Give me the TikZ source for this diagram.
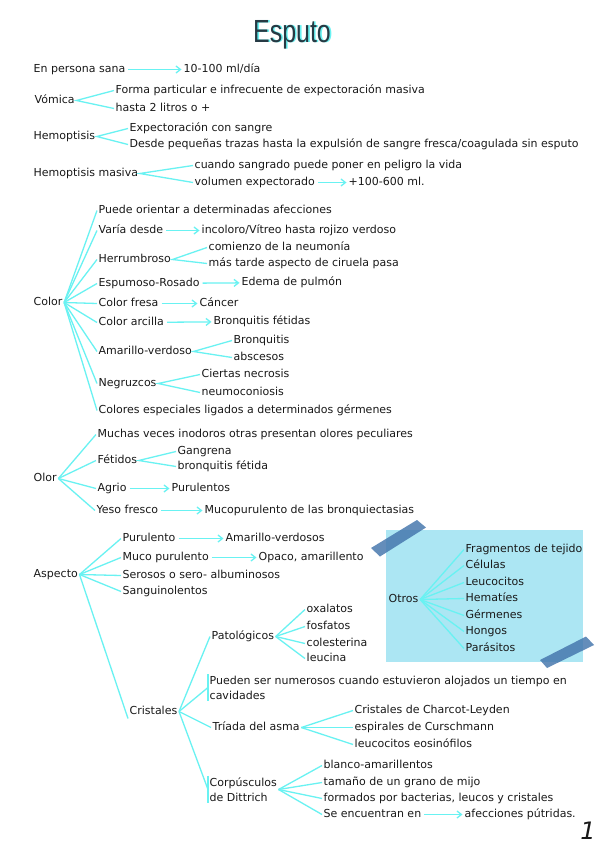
\documentclass[tikz,border=0pt]{standalone}
\usepackage{fontspec}
\setmainfont{DejaVu Sans}
\newfontfamily\titlefont{Liberation Sans}
\usetikzlibrary{arrows.meta}
\definecolor{cy}{RGB}{105,242,242}
\definecolor{ink}{RGB}{25,25,25}
\definecolor{boxc}{RGB}{172,230,243}
\definecolor{tapec}{RGB}{66,116,172}
\definecolor{ttl}{RGB}{38,58,68}
\tikzset{
  t2/.style={anchor=west, inner sep=1.5pt, text=ink, font=\fontsize{11}{15}\selectfont, align=left, yshift=-1.5pt},
  t/.style={t2, text height=8pt, text depth=2.6pt},
  ln/.style={draw=cy, line width=1.3pt},
  ar/.style={ln, -{Straight Barb[length=4.5pt,width=7pt]}, shorten <=1.5pt, shorten >=0.5pt},
  tape/.style={fill=tapec, opacity=0.82},
  ttext/.style={font=\titlefont\fontsize{32}{32}\selectfont}
}
\begin{document}
\begin{tikzpicture}[x=1pt,y=-1pt]
\useasboundingbox (0,0) rectangle (599,848);
\fill[white] (0,0) rectangle (599,848);

% title
\node[ttext, text=cy] (titleshadow) at (293.6,35.1) {\scalebox{0.78}[1]{Esputo}};
\node[ttext, text=ttl] (title) at (292,34.5) {\scalebox{0.78}[1]{Esputo}};

% top rows
\node[t] (sana) at (32,68) {En persona sana};
\node[t] (sanav) at (182,68) {10-100 ml/día};
\draw[ar] (sana) -- (sanav);

\node[t] (vom) at (33,99) {Vómica};
\node[t] (vom1) at (114,89) {Forma particular e infrecuente de expectoración masiva};
\node[t] (vom2) at (114,107) {hasta 2 litros o +};
\draw[ln] (vom1.west) -- (vom.east) -- (vom2.west);

\node[t] (hem) at (32,135) {Hemoptisis};
\node[t] (hem1) at (128,127) {Expectoración con sangre};
\node[t] (hem2) at (128,143) {Desde pequeñas trazas hasta la expulsión de sangre fresca/coagulada sin esputo};
\draw[ln] (hem1.west) -- (hem.east) -- (hem2.west);

\node[t] (hma) at (32,172) {Hemoptisis masiva};
\node[t] (hma1) at (193,164) {cuando sangrado puede poner en peligro la vida};
\node[t] (hma2) at (193,181) {volumen expectorado};
\node[t] (hma3) at (347,181) {+100-600 ml.};
\draw[ln] (hma1.west) -- (hma.east) -- (hma2.west);
\draw[ar] (hma2) -- (hma3);

% Color
\node[t] (col) at (32,301) {Color};
\node[t] (c1) at (97,209) {Puede orientar a determinadas afecciones};
\node[t] (c2) at (97,229) {Varía desde};
\node[t] (c2a) at (200,229) {incoloro/Vítreo hasta rojizo verdoso};
\node[t] (c3) at (97,258) {Herrumbroso};
\node[t] (c3a) at (207,246) {comienzo de la neumonía};
\node[t] (c3b) at (207,262) {más tarde aspecto de ciruela pasa};
\node[t] (c4) at (97,282) {Espumoso-Rosado};
\node[t] (c4a) at (240,281) {Edema de pulmón};
\node[t] (c5) at (97,302) {Color fresa};
\node[t] (c5a) at (198,302) {Cáncer};
\node[t] (c6) at (97,321) {Color arcilla};
\node[t] (c6a) at (212,320) {Bronquitis fétidas};
\node[t] (c7) at (97,350) {Amarillo-verdoso};
\node[t] (c7a) at (232,339) {Bronquitis};
\node[t] (c7b) at (232,356) {abscesos};
\node[t] (c8) at (97,382) {Negruzcos};
\node[t] (c8a) at (200,373) {Ciertas necrosis};
\node[t] (c8b) at (200,391) {neumoconiosis};
\node[t] (c9) at (97,409) {Colores especiales ligados a determinados gérmenes};
\foreach \n in {c1,c2,c3,c4,c5,c6,c7,c8,c9} \draw[ln] (col.east) -- (\n.west);
\draw[ar] (c2) -- (c2a);
\draw[ln] (c3a.west) -- (c3.east) -- (c3b.west);
\draw[ar] (c4) -- (c4a);
\draw[ar] (c5) -- (c5a);
\draw[ar] (c6) -- (c6a);
\draw[ln] (c7a.west) -- (c7.east) -- (c7b.west);
\draw[ln] (c8a.west) -- (c8.east) -- (c8b.west);

% Olor
\node[t] (olo) at (32,477) {Olor};
\node[t] (o1) at (96,433) {Muchas veces inodoros otras presentan olores peculiares};
\node[t] (o2) at (96,459) {Fétidos};
\node[t] (o2a) at (176,450) {Gangrena};
\node[t] (o2b) at (176,465) {bronquitis fétida};
\node[t] (o3) at (96,487) {Agrio};
\node[t] (o3a) at (170,487) {Purulentos};
\node[t] (o4) at (95,509) {Yeso fresco};
\node[t] (o4a) at (203,509) {Mucopurulento de las bronquiectasias};
\foreach \n in {o1,o2,o3,o4} \draw[ln] (olo.east) -- (\n.west);
\draw[ln] (o2a.west) -- (o2.east) -- (o2b.west);
\draw[ar] (o3) -- (o3a);
\draw[ar] (o4) -- (o4a);

% Otros box
\fill[boxc] (386,530) rectangle (583,662);
\node[t] (otr) at (387,598) {Otros};
\node[t] (x1) at (464,548) {Fragmentos de tejido};
\node[t] (x2) at (464,564) {Células};
\node[t] (x3) at (464,581) {Leucocitos};
\node[t] (x4) at (464,597) {Hematíes};
\node[t] (x5) at (464,614) {Gérmenes};
\node[t] (x6) at (464,630) {Hongos};
\node[t] (x7) at (464,647) {Parásitos};
\foreach \n in {x1,x2,x3,x4,x5,x6,x7} \draw[ln] (otr.east) -- (\n.west);
\fill[tape] (371,548) -- (417,520) -- (426,527.5) -- (380,556.5) -- cycle;
\fill[tape] (540,660) -- (586,636.5) -- (594,645) -- (547,668) -- cycle;

% Aspecto
\node[t] (asp) at (32,573) {Aspecto};
\node[t] (a1) at (121,537) {Purulento};
\node[t] (a1a) at (224,537) {Amarillo-verdosos};
\node[t] (a2) at (121,556) {Muco purulento};
\node[t] (a2a) at (257,556) {Opaco, amarillento};
\node[t] (a3) at (121,574) {Serosos o sero- albuminosos};
\node[t] (a4) at (121,590) {Sanguinolentos};
\node[t] (cri) at (128,710) {Cristales};
\foreach \n in {a1,a2,a3,a4} \draw[ln] (asp.east) -- (\n.west);
\draw[ln] (asp.east) -- (cri.south west);
\draw[ar] (a1) -- (a1a);
\draw[ar] (a2) -- (a2a);

% Cristales
\node[t] (pat) at (210,635) {Patológicos};
\node[t] (p1) at (305,608) {oxalatos};
\node[t] (p2) at (305,625) {fosfatos};
\node[t] (p3) at (305,642) {colesterina};
\node[t] (p4) at (305,657) {leucina};
\node[t2] (pue) at (208,686) {Pueden ser numerosos cuando estuvieron alojados un tiempo en\\cavidades};
\node[t] (tri) at (211,726) {Tríada del asma};
\node[t] (t1) at (353,709) {Cristales de Charcot-Leyden};
\node[t] (t2) at (353,726) {espirales de Curschmann};
\node[t] (t3) at (353,743) {leucocitos eosinófilos};
\node[t2] (cor) at (208,788) {Corpúsculos\\de Dittrich};
\node[t] (d1) at (322,764) {blanco-amarillentos};
\node[t] (d2) at (322,781) {tamaño de un grano de mijo};
\node[t] (d3) at (322,797) {formados por bacterias, leucos y cristales};
\node[t] (d4) at (322,813) {Se encuentran en};
\node[t] (d4a) at (463,813) {afecciones pútridas.};
\foreach \n in {pat,pue,tri,cor} \draw[ln] (cri.east) -- (\n.west);
\draw[ln] (pue.north west) -- (pue.south west);
\draw[ln] (cor.north west) -- (cor.south west);
\foreach \n in {p1,p2,p3,p4} \draw[ln] (pat.east) -- (\n.west);
\foreach \n in {t1,t2,t3} \draw[ln] (tri.east) -- (\n.west);
\foreach \n in {d1,d2,d3,d4} \draw[ln] (cor.east) -- (\n.west);
\draw[ar] (d4) -- (d4a);

% page number
\node[text=ink, font=\fontsize{24}{24}\selectfont\itshape] (pnum) at (588,831) {1};
\end{tikzpicture}
\end{document}
